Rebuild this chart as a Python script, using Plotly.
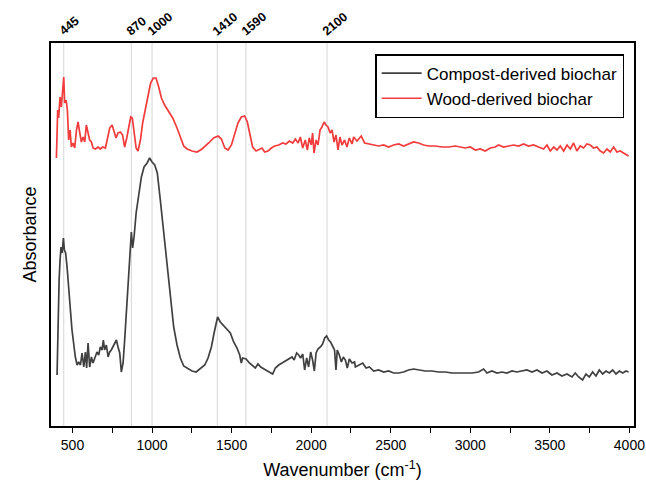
import plotly.graph_objects as go

# Wavenumbers (cm-1) and absorbance (arbitrary, offset)
wood_wn = [399, 407, 413, 422, 430, 438, 445, 451, 460, 468, 476, 485, 493, 504, 514, 525, 535, 545, 556, 567,
           577, 587, 598, 608, 619, 629, 644, 661, 675, 690, 707, 721, 734, 749, 759, 774, 786, 801, 815, 828,
           841, 853, 866, 876, 887, 900, 912, 927, 941, 958, 975, 991, 1008, 1025, 1042, 1059, 1079, 1105, 1130,
           1157, 1178, 1199, 1220, 1251, 1283, 1314, 1356, 1387, 1415, 1436, 1457, 1478, 1499, 1519, 1540, 1561,
           1582, 1599, 1616, 1632, 1654, 1674, 1691, 1708, 1729, 1750, 1771, 1796, 1821, 1842, 1863, 1884, 1901,
           1918, 1932, 1947, 1963, 1976, 1988, 2001, 2009, 2018, 2031, 2043, 2056, 2068, 2081, 2093, 2106, 2119,
           2131, 2144, 2156, 2169, 2181, 2194, 2210, 2225, 2240, 2257, 2267, 2288, 2315, 2336, 2361, 2393, 2424,
           2456, 2487, 2518, 2550, 2581, 2612, 2644, 2675, 2707, 2738, 2780, 2822, 2864, 2906, 2937, 2969, 3000,
           3032, 3063, 3094, 3126, 3157, 3178, 3209, 3241, 3272, 3304, 3335, 3366, 3398, 3429, 3461, 3482, 3503,
           3524, 3545, 3566, 3587, 3608, 3629, 3649, 3670, 3691, 3712, 3733, 3754, 3775, 3796, 3817, 3838, 3859,
           3880, 3901, 3922, 3942, 3963, 3984, 3995]
wood_abs = [2.68, 3.16, 3.08, 3.29, 3.19, 3.36, 3.49, 3.23, 3.26, 3.16, 2.86, 2.96, 2.79, 2.83, 2.78, 2.96, 3.04,
            2.94, 2.84, 2.89, 2.84, 3.01, 2.94, 2.86, 2.84, 2.78, 2.77, 2.79, 2.77, 2.79, 2.78, 2.89, 2.98, 3.01,
            2.96, 2.88, 2.93, 2.94, 2.91, 2.79, 2.88, 2.99, 3.09, 3.08, 2.91, 2.78, 2.75, 2.86, 3.03, 3.16, 3.29,
            3.43, 3.48, 3.48, 3.39, 3.28, 3.21, 3.14, 3.08, 2.98, 2.88, 2.80, 2.77, 2.75, 2.74, 2.77, 2.83, 2.88,
            2.90, 2.87, 2.78, 2.76, 2.81, 2.93, 3.03, 3.09, 3.10, 3.04, 2.91, 2.79, 2.75, 2.77, 2.78, 2.74, 2.75,
            2.78, 2.80, 2.81, 2.83, 2.82, 2.85, 2.83, 2.87, 2.83, 2.89, 2.78, 2.86, 2.76, 2.88, 2.81, 2.93, 2.73,
            2.86, 2.81, 2.96, 2.99, 3.04, 3.01, 2.99, 2.93, 2.96, 2.84, 2.91, 2.76, 2.89, 2.81, 2.86, 2.79, 2.88,
            2.82, 2.89, 2.85, 2.90, 2.83, 2.82, 2.81, 2.80, 2.81, 2.79, 2.81, 2.82, 2.80, 2.82, 2.84, 2.83, 2.81,
            2.80, 2.80, 2.79, 2.79, 2.80, 2.79, 2.78, 2.79, 2.76, 2.77, 2.75, 2.78, 2.79, 2.81, 2.79, 2.80, 2.81,
            2.80, 2.82, 2.80, 2.81, 2.79, 2.77, 2.81, 2.75, 2.79, 2.76, 2.80, 2.75, 2.81, 2.77, 2.83, 2.75, 2.80,
            2.78, 2.82, 2.81, 2.78, 2.79, 2.75, 2.73, 2.77, 2.74, 2.79, 2.74, 2.75, 2.73, 2.71, 2.70]

compost_wn = [403, 410, 416, 422, 428, 435, 443, 449, 457, 466, 476, 487, 497, 508, 518, 529, 539, 550, 560, 571,
              581, 589, 598, 608, 619, 629, 640, 654, 665, 675, 686, 694, 702, 713, 724, 734, 744, 755, 765, 776,
              786, 797, 807, 818, 828, 839, 849, 860, 870, 878, 887, 900, 916, 933, 950, 969, 985, 1000, 1017,
              1033, 1050, 1067, 1084, 1101, 1117, 1136, 1157, 1178, 1199, 1226, 1251, 1277, 1304, 1331, 1352, 1373,
              1390, 1404, 1412, 1429, 1450, 1471, 1492, 1513, 1534, 1551, 1561, 1569, 1591, 1612, 1633, 1649, 1666,
              1683, 1704, 1725, 1746, 1758, 1775, 1796, 1817, 1838, 1859, 1880, 1893, 1909, 1922, 1934, 1947, 1959,
              1972, 1984, 1997, 2009, 2020, 2031, 2043, 2058, 2072, 2085, 2097, 2110, 2122, 2135, 2147, 2156, 2164,
              2177, 2190, 2202, 2215, 2227, 2240, 2257, 2273, 2278, 2299, 2324, 2345, 2366, 2393, 2424, 2456, 2487,
              2518, 2550, 2581, 2612, 2644, 2675, 2717, 2759, 2801, 2843, 2885, 2927, 2969, 3011, 3052, 3084, 3105,
              3136, 3168, 3199, 3230, 3262, 3293, 3325, 3356, 3388, 3419, 3451, 3482, 3513, 3545, 3576, 3608, 3639,
              3660, 3681, 3706, 3727, 3748, 3769, 3790, 3811, 3832, 3853, 3874, 3895, 3916, 3937, 3958, 3979, 3995]
compost_abs = [0.51, 1.09, 1.46, 1.66, 1.79, 1.73, 1.88, 1.76, 1.73, 1.59, 1.33, 1.16, 0.96, 0.79, 0.69, 0.61,
               0.64, 0.61, 0.73, 0.59, 0.74, 0.58, 0.83, 0.59, 0.69, 0.63, 0.68, 0.74, 0.71, 0.79, 0.76, 0.86,
               0.76, 0.81, 0.69, 0.74, 0.76, 0.79, 0.83, 0.86, 0.79, 0.73, 0.54, 0.63, 0.86, 1.16, 1.43, 1.69,
               1.94, 1.78, 1.89, 2.13, 2.33, 2.49, 2.59, 2.63, 2.68, 2.64, 2.61, 2.53, 2.29, 2.03, 1.73, 1.46,
               1.23, 0.99, 0.81, 0.68, 0.60, 0.57, 0.55, 0.54, 0.58, 0.61, 0.68, 0.79, 0.93, 1.06, 1.09, 1.04,
               1.00, 0.96, 0.93, 0.84, 0.78, 0.71, 0.63, 0.68, 0.67, 0.63, 0.60, 0.58, 0.62, 0.59, 0.57, 0.55,
               0.53, 0.52, 0.58, 0.61, 0.63, 0.65, 0.67, 0.69, 0.66, 0.73, 0.71, 0.68, 0.72, 0.56, 0.68, 0.59,
               0.74, 0.66, 0.55, 0.73, 0.77, 0.79, 0.82, 0.88, 0.90, 0.86, 0.84, 0.79, 0.76, 0.56, 0.76, 0.71,
               0.64, 0.69, 0.66, 0.58, 0.67, 0.63, 0.64, 0.59, 0.61, 0.63, 0.58, 0.59, 0.55, 0.56, 0.54, 0.55,
               0.53, 0.53, 0.54, 0.56, 0.57, 0.56, 0.55, 0.55, 0.54, 0.54, 0.53, 0.53, 0.53, 0.53, 0.54, 0.57,
               0.53, 0.55, 0.53, 0.54, 0.53, 0.55, 0.54, 0.55, 0.56, 0.54, 0.56, 0.53, 0.55, 0.51, 0.53, 0.50,
               0.52, 0.49, 0.53, 0.49, 0.46, 0.52, 0.49, 0.54, 0.50, 0.56, 0.52, 0.55, 0.53, 0.56, 0.52, 0.55,
               0.53, 0.55, 0.54]

peak_wn = [445, 870, 1000, 1410, 1590, 2100]
peak_labels = ["445", "870", "1000", "1410", "1590", "2100"]
x_ticks = [500, 1000, 1500, 2000, 2500, 3000, 3500, 4000]
x_minor = [750, 1250, 1750, 2250, 2750, 3250, 3750]

FONT = "Liberation Sans, Arial, sans-serif"
XR = [365, 4029]

fig = go.Figure()
fig.add_trace(go.Scatter(x=compost_wn, y=compost_abs, mode="lines", name="Compost-derived biochar",
                         line=dict(color="#404040", width=1.7)))
fig.add_trace(go.Scatter(x=wood_wn, y=wood_abs, mode="lines", name="Wood-derived biochar",
                         line=dict(color="#f23b3b", width=1.7)))

# light grey reference lines at the labelled peaks
for wn in peak_wn:
    fig.add_vline(x=wn, line=dict(color="#d6d6d6", width=1), layer="below")

# rotated peak labels above the frame
for wn, lab in zip(peak_wn, peak_labels):
    fig.add_annotation(x=wn, y=1, xref="x", yref="paper", text="<b>%s</b>" % lab, showarrow=False,
                       textangle=-40, xanchor="left", yanchor="bottom", xshift=-10, yshift=2,
                       font=dict(size=12.5, color="black"))

fig.update_layout(
    width=646, height=486,
    margin=dict(l=51, r=12, t=43, b=60, autoexpand=False),
    paper_bgcolor="white", plot_bgcolor="white",
    font=dict(family=FONT, color="black"),
    xaxis=dict(range=XR, tickvals=x_ticks, ticks="outside", ticklen=5, tickwidth=1.2,
               tickcolor="black", showgrid=False, zeroline=False, showline=True, linecolor="black",
               linewidth=1.6, mirror=True, tickfont=dict(size=14), automargin=False,
               minor=dict(tickvals=x_minor, ticks="outside",
                          ticklen=5, tickwidth=1.2, tickcolor="black"),
               title=dict(text="Wavenumber (cm<sup>-1</sup>)", font=dict(size=18), standoff=12)),
    yaxis=dict(range=[0, 3.83], showticklabels=False, ticks="", showgrid=False, zeroline=False,
               showline=True, linecolor="black", linewidth=1.6, mirror=True, automargin=False,
               title=dict(text="Absorbance", font=dict(size=18), standoff=8)),
    legend=dict(x=0.556, y=0.971, xanchor="left", yanchor="top", bgcolor="white",
                bordercolor="black", borderwidth=1.5, font=dict(size=17),
                tracegroupgap=0, itemwidth=40),
    showlegend=True,
)

fig.write_html("out.html")
